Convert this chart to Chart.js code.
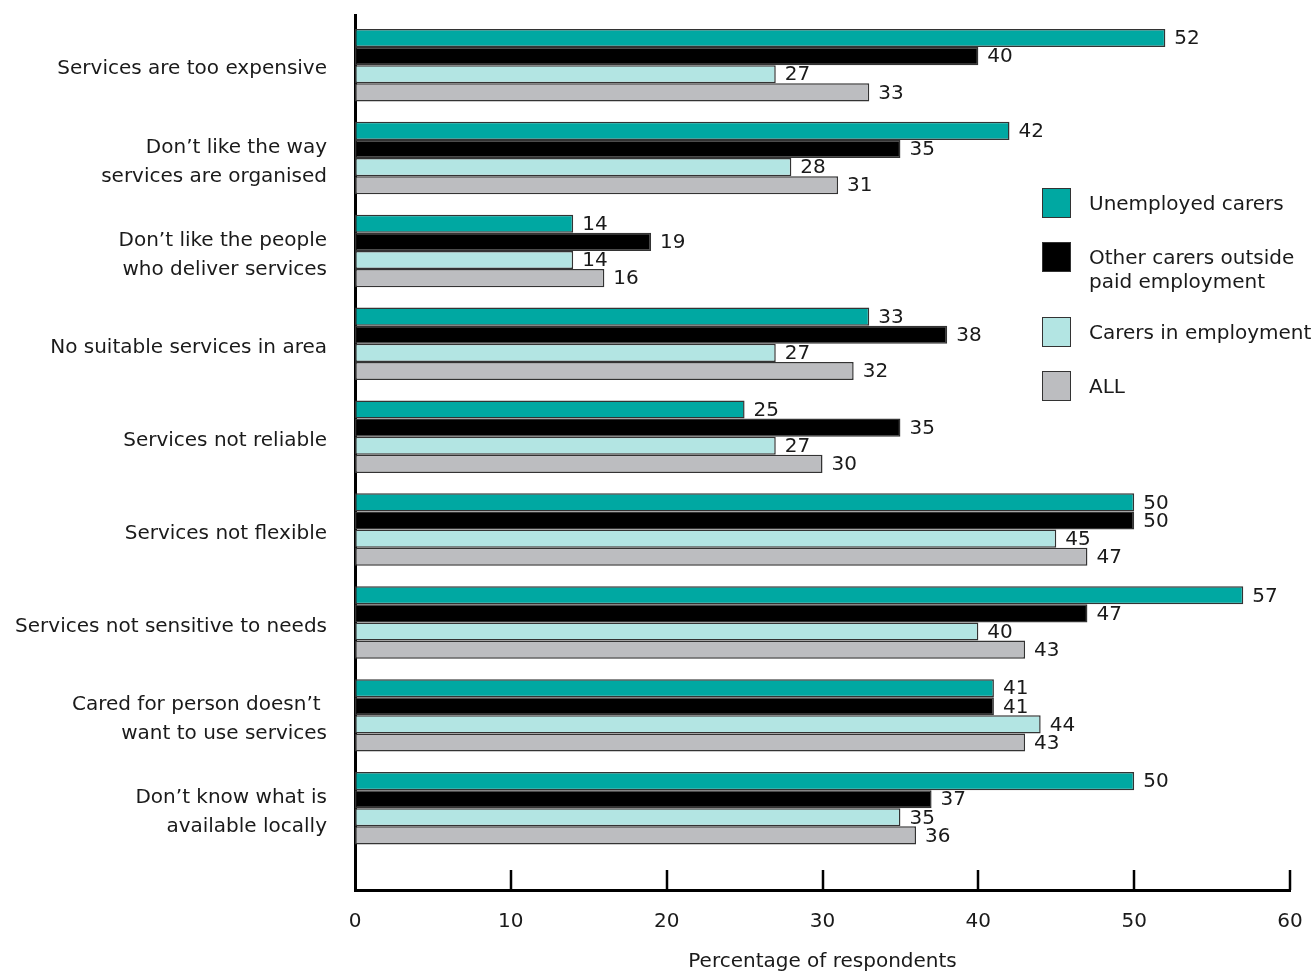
<!DOCTYPE html>
<html>
<head>
<meta charset="utf-8">
<script src="https://cdn.jsdelivr.net/npm/chart.js@4/dist/chart.umd.min.js"></script>
<style>
  html, body { margin: 0; padding: 0; background: #fff; }
  #wrap { position: relative; width: 1314px; height: 972px; }
  #legend {
    position: absolute; left: 1042px; top: 188px;
    font-family: "DejaVu Sans", sans-serif; font-size: 20px; color: #1a1a1a;
    display: flex; flex-direction: column; gap: 24px;
  }
  .item { display: flex; align-items: flex-start; }
  .box { width: 27px; height: 28px; border: 1.5px solid #333; flex: none; }
  .txt { margin-left: 18px; padding-top: 3px; line-height: 24px; }
</style>
</head>
<body>
<div id="wrap">
  <canvas id="chart" width="1314" height="972"></canvas>
  <div id="legend"></div>
</div>
<script>
// categories (one entry per line of the label)
const categories = [
  ['Services are too expensive'],
  ['Don\u2019t like the way', 'services are organised'],
  ['Don\u2019t like the people', 'who deliver services'],
  ['No suitable services in area'],
  ['Services not reliable'],
  ['Services not flexible'],
  ['Services not sensitive to needs'],
  ['Cared for person doesn\u2019t ', 'want to use services'],
  ['Don\u2019t know what is', 'available locally']
];

const seriesNames = ['Unemployed carers', ['Other carers outside', 'paid employment'], 'Carers in employment', 'ALL'];
const seriesColors = ['#00a8a2', '#000000', '#b3e5e3', '#bcbdc0'];

const unemployed = [52, 42, 14, 33, 25, 50, 57, 41, 50];
const otherCarers = [40, 35, 19, 38, 35, 50, 47, 41, 37];
const inEmployment = [27, 28, 14, 27, 27, 45, 40, 44, 35];
const allCarers = [33, 31, 16, 32, 30, 47, 43, 43, 36];

const xTicks = [0, 10, 20, 30, 40, 50, 60];

const allSeries = [unemployed, otherCarers, inEmployment, allCarers];

const FONT = '"DejaVu Sans", sans-serif';

// numbers at the end of each bar
const valueLabels = {
  id: 'valueLabels',
  afterDatasetsDraw(chart) {
    const ctx = chart.ctx;
    ctx.save();
    ctx.font = '20px ' + FONT;
    ctx.fillStyle = '#1a1a1a';
    ctx.textAlign = 'left';
    ctx.textBaseline = 'middle';
    chart.data.datasets.forEach((ds, di) => {
      chart.getDatasetMeta(di).data.forEach((bar, i) => {
        ctx.fillText(ds.data[i].x, bar.x + 9, bar.y + 1);
      });
    });
    ctx.restore();
  }
};

// short tick marks pointing up from the x axis
const upTicks = {
  id: 'upTicks',
  afterDraw(chart) {
    const ctx = chart.ctx;
    const xs = chart.scales.x;
    const bottom = chart.chartArea.bottom;
    ctx.save();
    ctx.strokeStyle = '#000';
    ctx.lineWidth = 2.5;
    xTicks.forEach(t => {
      if (t === 0) return;
      const px = Math.round(xs.getPixelForValue(t));
      ctx.beginPath();
      ctx.moveTo(px, bottom - 20);
      ctx.lineTo(px, bottom);
      ctx.stroke();
    });
    ctx.restore();
  }
};

const datasets = allSeries.map((vals, s) => ({
  label: Array.isArray(seriesNames[s]) ? seriesNames[s].join(' ') : seriesNames[s],
  data: vals.map((v, i) => ({ x: v, y: i })),
  backgroundColor: seriesColors[s],
  borderColor: '#333',
  borderWidth: 1.5,
  borderSkipped: false,
  categoryPercentage: 0.78,
  barPercentage: 1.0
}));

new Chart(document.getElementById('chart'), {
  type: 'bar',
  data: { datasets },
  options: {
    indexAxis: 'y',
    responsive: false,
    animation: false,
    layout: { padding: { top: 15, right: 24, left: 0, bottom: 0 } },
    plugins: {
      legend: { display: false },
      tooltip: { enabled: false }
    },
    scales: {
      y: {
        type: 'linear',
        reverse: true,
        offset: false,
        min: -0.54,
        max: 8.88,
        afterBuildTicks: scale => { scale.ticks = categories.map((c, i) => ({ value: i })); },
        afterFit: scale => {
          scale.width = 355;
          scale.paddingTop = 0;
          scale.paddingBottom = 0;
        },
        grid: { display: false, drawTicks: false, offset: false },
        border: { display: true, color: '#000', width: 3 },
        ticks: {
          autoSkip: false,
          padding: 28,
          labelOffset: 4,
          color: '#1a1a1a',
          font: { family: FONT, size: 20, lineHeight: 1.45 },
          callback: v => categories[v]
        }
      },
      x: {
        type: 'linear',
        min: 0,
        max: 60,
        afterBuildTicks: scale => { scale.ticks = xTicks.map(v => ({ value: v })); },
        afterFit: scale => {
          scale.height = 82;
          scale.paddingLeft = 0;
          scale.paddingRight = 0;
        },
        grid: { display: false, drawTicks: false },
        border: { display: true, color: '#000', width: 3 },
        ticks: {
          padding: 20,
          color: '#1a1a1a',
          font: { family: FONT, size: 20 }
        },
        title: {
          display: true,
          text: 'Percentage of respondents',
          color: '#1a1a1a',
          font: { family: FONT, size: 20 },
          padding: { top: 0, bottom: -2 }
        }
      }
    }
  },
  plugins: [valueLabels, upTicks]
});

// legend
const legend = document.getElementById('legend');
seriesNames.forEach((name, s) => {
  const item = document.createElement('div');
  item.className = 'item';
  const box = document.createElement('div');
  box.className = 'box';
  box.style.background = seriesColors[s];
  const txt = document.createElement('div');
  txt.className = 'txt';
  (Array.isArray(name) ? name : [name]).forEach(line => {
    const d = document.createElement('div');
    d.textContent = line;
    txt.appendChild(d);
  });
  item.appendChild(box);
  item.appendChild(txt);
  legend.appendChild(item);
});
</script>
</body>
</html>
